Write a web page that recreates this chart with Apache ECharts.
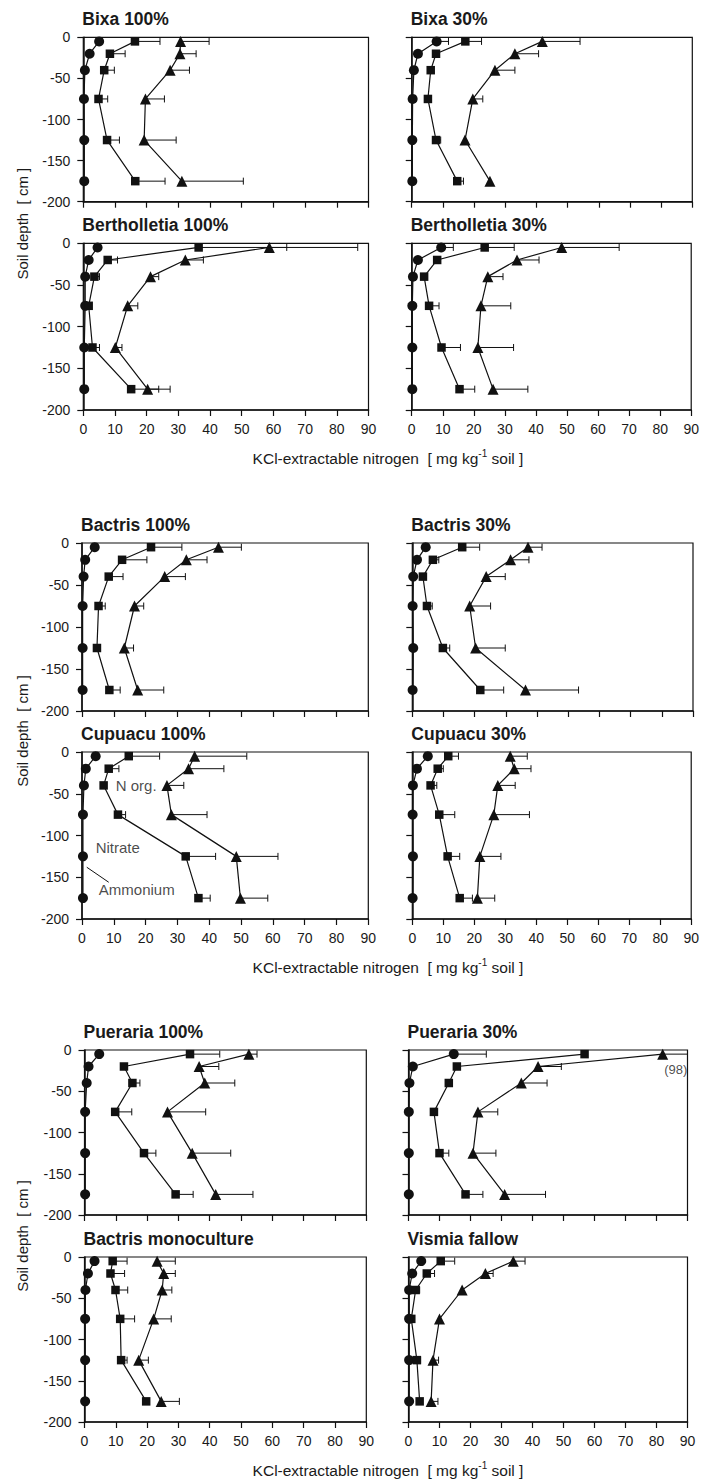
<!DOCTYPE html>
<html><head><meta charset="utf-8">
<script src="https://cdn.jsdelivr.net/npm/echarts@6/dist/echarts.min.js"></script>
<style>html,body{margin:0;padding:0;background:#fff}#c{width:702px;height:1481px}</style>
</head><body><div id="c"></div>
<script>
// ---------------- DATA ----------------
const panelTitles = ['Bixa 100%','Bixa 30%','Bertholletia 100%','Bertholletia 30%',
  'Bactris 100%','Bactris 30%','Cupuacu 100%','Cupuacu 30%',
  'Pueraria 100%','Pueraria 30%','Bactris monoculture','Vismia fallow'];
const depths = [-5, -20, -40, -75, -125, -175];           // cm
const xTickValues = [0,10,20,30,40,50,60,70,80,90];
const yTickValues = [0,-50,-100,-150,-200];

// Ammonium (circles), mg kg-1 soil, one row per panel
const ammonium = [
  [5.0,2.0,0.5,0.2,0.3,0.3],
  [8.0,2.0,0.7,0.3,0.2,0.2],
  [4.5,1.7,0.6,0.6,0.3,0.3],
  [9.5,2.0,0.4,0.2,0.2,0.2],
  [4.0,1.0,0.5,0.2,0.2,0.2],
  [4.3,1.5,0.3,0.1,0.3,0.1],
  [4.3,1.2,0.6,0.3,0.3,0.3],
  [5.0,1.5,0.2,0.1,0.2,0.1],
  [4.7,1.3,0.7,0.2,0.2,0.2],
  [14.6,1.4,0.3,0.1,0.1,0.1],
  [3.2,1.1,0.3,0.2,0.2,0.2],
  [4.1,1.2,0.2,0.2,0.2,0.2]
];
const ammoniumSD = [
  [null,null,null,null,null,null],
  [3.8,null,null,null,null,null],
  [null,null,null,null,null,null],
  [3.9,null,null,null,null,null],
  [null,null,null,null,null,null],
  [null,null,null,null,null,null],
  [null,null,null,null,null,null],
  [null,null,null,null,null,null],
  [null,null,null,null,null,null],
  [10.5,null,null,null,null,null],
  [null,null,null,null,null,null],
  [null,null,null,null,null,null]
];
// Nitrate (squares)
const nitrate = [
  [16.3,8.4,6.6,4.8,7.5,16.4],
  [17.2,7.8,6.1,5.2,7.8,14.6],
  [36.4,7.7,3.5,1.7,2.9,15.1],
  [23.5,8.2,4.0,5.6,9.6,15.4],
  [21.7,12.6,8.4,5.2,4.7,8.6],
  [16.0,6.6,3.4,4.7,9.8,21.8],
  [14.7,8.4,6.8,11.3,32.6,36.6],
  [11.6,8.2,5.9,8.7,11.4,15.3],
  [33.7,12.6,15.3,9.8,19.0,29.1],
  [56.8,15.6,13.0,8.2,10.0,18.4],
  [9.0,8.3,9.9,11.4,11.7,19.7],
  [10.4,5.9,2.3,0.9,2.7,3.6]
];
const nitrateSD = [
  [7.9,4.8,3.2,2.9,3.9,9.4],
  [5.2,null,null,null,1.5,2.0],
  [27.8,3.1,1.6,null,2.2,8.7],
  [9.5,null,null,3.2,6.1,4.9],
  [9.7,7.8,4.5,2.1,null,3.4],
  [5.6,1.9,null,1.7,2.2,7.5],
  [9.7,3.2,null,2.4,9.4,3.7],
  [3.3,1.8,2.0,5.0,3.9,4.1],
  [9.5,null,2.4,5.3,3.8,5.6],
  [null,null,null,null,3.0,5.6],
  [4.6,4.5,3.9,4.6,1.9,null],
  [4.5,2.5,1.3,null,1.2,null]
];
// Organic N (triangles)
const norg = [
  [30.7,30.5,27.4,19.6,19.2,31.1],
  [41.9,33.1,26.7,19.6,17.1,25.1],
  [58.7,32.2,21.2,14.0,10.1,20.3],
  [48.3,33.9,24.5,22.3,21.3,26.2],
  [42.9,32.8,26.0,16.5,13.3,17.5],
  [37.1,31.5,23.7,18.4,20.3,36.3],
  [35.4,33.5,26.7,28.1,48.5,49.8],
  [31.6,32.9,27.6,26.3,21.8,21.0],
  [52.5,36.6,38.4,26.5,34.4,41.9],
  [82.0,41.8,36.4,22.4,20.8,31.0],
  [23.2,25.3,24.8,22.1,17.3,24.5],
  [33.8,24.8,17.3,10.0,7.9,7.3]
];
const norgSD = [
  [9.0,5.1,6.1,6.0,10.1,19.4],
  [12.1,7.6,6.4,3.2,null,null],
  [27.9,5.7,2.6,3.2,2.1,7.1],
  [18.5,7.1,4.9,9.6,11.5,11.2],
  [7.2,6.5,6.5,2.9,2.9,8.2],
  [4.5,5.9,6.1,6.7,9.5,17.0],
  [16.4,11.1,5.3,11.2,13.1,8.6],
  [5.5,5.4,5.6,11.5,6.8,5.6],
  [2.6,6.3,9.6,12.2,12.3,11.9],
  [15.0,7.5,8.3,6.4,7.4,13.2],
  [5.8,3.7,3.1,5.6,3.1,5.8],
  [3.8,2.5,null,null,1.8,2.2]
];
// In-plot labels (Cupuacu 100%) and off-scale note (Pueraria 30%)
const seriesLabelPanel = 6;
const seriesLabelTexts = ['N org.','Nitrate','Ammonium'];
const seriesLabelPos = [[10.6,-40],[4.3,-114],[5.3,-165]];
const ammoniumLeader = [[1.5,-138],[8.4,-156]];
const offScalePanel = 9;
const offScaleText = '(98)';
const offScalePos = [86.2,-24];

// ---------------- LAYOUT ----------------
const FONT = "'Liberation Sans', Arial, Helvetica, sans-serif";
const INK = '#111';
const colLR = [ [[83.3,368.5],[411.7,692.3]],
                [[82,368.3],[412.3,693]],
                [[84.5,366.3],[408.5,687.5]] ];
const rowTB = [ [[37.3,201.7],[243.3,410]],
                [[543,711],[752,919]],
                [[1050,1215],[1257,1422]] ];

const grids=[], xAxes=[], yAxes=[], series=[], graphics=[];
function errRender(params, api){
  const v=api.value(0), d=api.value(1), e=api.value(2);
  const p0=api.coord([v,d]);
  const end=Math.min(v+e, xTickValues[xTickValues.length-1]);
  const p1=api.coord([end,d]);
  const h=3.5;
  return {type:'group', children:[
    {type:'line', shape:{x1:p0[0],y1:p0[1],x2:p1[0],y2:p1[1]}, style:{stroke:INK,lineWidth:1}},
    {type:'line', shape:{x1:p1[0],y1:p1[1]-h,x2:p1[0],y2:p1[1]+h}, style:{stroke:INK,lineWidth:1}}
  ]};
}
const measures = [
  {vals:ammonium, sd:ammoniumSD, symbol:'circle', size:10},
  {vals:nitrate, sd:nitrateSD, symbol:'rect', size:8.5},
  {vals:norg, sd:norgSD, symbol:'triangle', size:11}
];
for(let i=0;i<12;i++){
  const g=Math.floor(i/4), r=Math.floor((i%4)/2), c=i%2;
  const [L,R]=colLR[g][c], [T,B]=rowTB[g][r];
  grids.push({left:L, top:T, width:R-L, height:B-T, show:true, borderColor:INK, borderWidth:1.2, backgroundColor:'transparent'});
  xAxes.push({gridIndex:i, type:'value', position:'bottom',
    min:xTickValues[0], max:xTickValues[xTickValues.length-1], interval:xTickValues[1]-xTickValues[0],
    axisLine:{show:true, onZero:false, lineStyle:{color:INK,width:1.5}},
    axisTick:{show:true, inside:false, length:6, lineStyle:{color:INK,width:1.2}},
    axisLabel:{show:r===1, fontSize:14, color:'#1a1a1a', fontFamily:FONT, margin:12},
    splitLine:{show:false}});
  yAxes.push({gridIndex:i, type:'value',
    min:yTickValues[yTickValues.length-1], max:yTickValues[0], interval:yTickValues[0]-yTickValues[1],
    axisLine:{show:true, onZero:false, lineStyle:{color:INK,width:1.5}},
    axisTick:{show:true, inside:false, length:6, lineStyle:{color:INK,width:1.2}},
    axisLabel:{show:c===0, fontSize:14, color:'#1a1a1a', fontFamily:FONT, margin:13},
    splitLine:{show:false}});
  measures.forEach((m)=>{
    const errData=[];
    depths.forEach((d,k)=>{ if(m.sd[i][k]!=null) errData.push([m.vals[i][k], d, m.sd[i][k]]); });
    series.push({type:'custom', xAxisIndex:i, yAxisIndex:i, renderItem:errRender,
      encode:{x:0,y:1}, data:errData, z:1, silent:true, clip:false});
    series.push({type:'line', xAxisIndex:i, yAxisIndex:i, data:depths.map((d,k)=>[m.vals[i][k], d]),
      symbol:m.symbol, symbolSize:m.size, showSymbol:true, z:3,
      itemStyle:{color:INK, borderWidth:0}, lineStyle:{color:INK, width:1.2}, animation:false});
  });
  graphics.push({type:'text', x:L-1, y:T-18.5, style:{text:panelTitles[i], font:'bold 17.5px '+FONT, fill:'#1a1a1a', align:'left', verticalAlign:'middle'}});
}
// series labels inside Cupuacu 100%
series.push({type:'scatter', xAxisIndex:seriesLabelPanel, yAxisIndex:seriesLabelPanel, symbolSize:0, z:4,
  data:seriesLabelPos.map((p,k)=>({value:p, name:seriesLabelTexts[k]})),
  label:{show:true, position:'right', distance:0, formatter:'{b}', fontSize:15, color:'#1a1a1a', fontFamily:FONT}});
series.push({type:'line', xAxisIndex:seriesLabelPanel, yAxisIndex:seriesLabelPanel, data:ammoniumLeader,
  symbol:'none', lineStyle:{color:INK,width:1}, z:4});
series.push({type:'scatter', xAxisIndex:offScalePanel, yAxisIndex:offScalePanel, symbolSize:0, z:4,
  data:[{value:offScalePos, name:offScaleText}],
  label:{show:true, position:'inside', formatter:'{b}', fontSize:13, color:'#1a1a1a', fontFamily:FONT}});

// axis names per group
for(let g=0;g<3;g++){
  const top=rowTB[g][0][0], bot=rowTB[g][1][1];
  graphics.push({type:'text', x:22, y:(top+bot)/2, rotation:Math.PI/2,
    style:{text:'Soil depth  [ cm ]', font:'15px '+FONT, fill:'#1a1a1a', align:'center', verticalAlign:'middle'}});
  graphics.push({type:'text', x:388, y:bot+47,
    style:{text:'{a|KCl-extractable nitrogen  [ mg kg}{s|-1}{a| soil ]}', fill:'#1a1a1a', align:'center', verticalAlign:'middle',
      rich:{a:{fontSize:15.5, fontFamily:FONT, color:'#1a1a1a', lineHeight:18, verticalAlign:'bottom'},
            s:{fontSize:10, fontFamily:FONT, color:'#1a1a1a', lineHeight:18, verticalAlign:'top'}}}});
}

const chart = echarts.init(document.getElementById('c'), null, {renderer:'svg'});
chart.setOption({animation:false, backgroundColor:'#fff', grid:grids, xAxis:xAxes, yAxis:yAxes, series:series, graphic:graphics});
</script></body></html>
